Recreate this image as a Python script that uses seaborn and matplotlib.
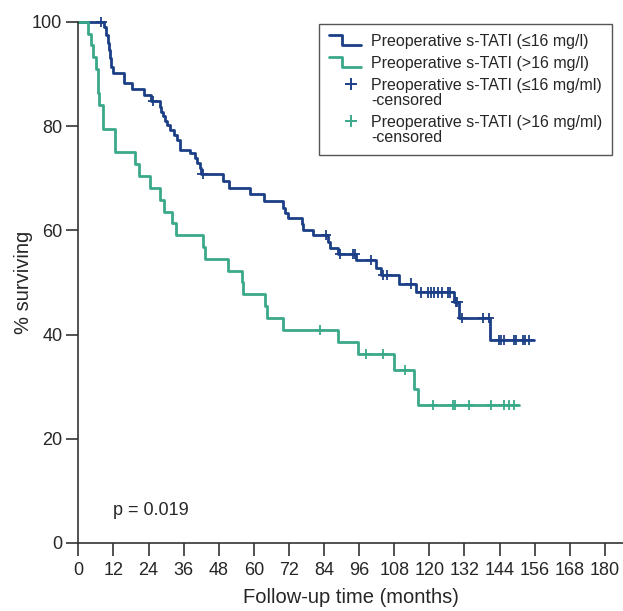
import numpy as np
import pandas as pd
import matplotlib
matplotlib.use("Agg")
import matplotlib.pyplot as plt
from matplotlib.lines import Line2D
from matplotlib.legend_handler import HandlerBase
import seaborn as sns

# Kaplan-Meier steps (months, % surviving)
low_times = [8.7, 9.5, 10.1, 10.4, 10.8, 11.2, 11.8, 15.5, 18.5, 22.4, 24.9,
             27.8, 28.2, 28.8, 29.5, 30.3, 31.4, 32.6, 33.8, 34.7, 38.3, 40.0,
             40.7, 41.5, 42.0, 49.4, 51.4, 58.7, 63.6, 70.0, 70.8, 71.6, 76.4,
             76.8, 80.2, 85.2, 85.9, 88.7, 95.0, 101.8, 103.6, 109.5, 115.5,
             128.3, 130.0, 140.9]
low_surv = [99.0, 97.5, 95.9, 94.6, 93.0, 91.4, 90.3, 88.2, 87.1, 86.0, 84.8,
            83.7, 82.8, 81.9, 81.0, 80.2, 79.3, 78.3, 77.4, 75.5, 74.8, 73.8,
            72.9, 71.9, 70.8, 69.4, 68.1, 67.0, 65.6, 64.3, 63.3, 62.3, 61.2,
            60.1, 59.1, 57.8, 56.6, 55.5, 54.3, 52.7, 51.4, 49.8, 48.1,
            46.2, 43.2, 39.0]
low_censor = [7.9, 25.5, 42.5, 84.7, 89.6, 93.9, 94.6, 100.1, 104.3, 105.5,
              113.6, 117.2, 119.4, 120.5, 121.7, 122.8, 124.4, 126.3, 126.9,
              129.0, 129.6, 131.1, 138.3, 140.5, 143.7, 144.5, 145.4, 148.8,
              149.7, 152.0, 152.8, 153.9]
low_end = 155.7

high_times = [3.3, 4.3, 5.1, 6.1, 6.6, 7.0, 8.3, 12.4, 12.7, 19.3, 20.6, 24.4,
              28.0, 29.4, 32.0, 33.4, 42.6, 43.2, 51.3, 55.9, 56.2, 63.9, 64.5,
              69.9, 88.8, 95.6, 108.0, 114.6, 116.0]
high_surv = [97.7, 95.5, 93.2, 90.9, 86.4, 84.1, 79.5, 77.3, 75.0, 72.7, 70.5,
             68.2, 65.9, 63.6, 61.4, 59.1, 56.8, 54.5, 52.3, 50.0, 47.7, 45.5,
             43.2, 40.9, 38.5, 36.3, 33.2, 29.6, 26.5]
high_censor = [82.7, 98.5, 104.1, 111.7, 121.4, 128.1, 128.8, 133.4, 141.0,
               145.4, 147.4, 149.0]
high_end = 150.8

x_ticks = list(range(0, 181, 12))
y_ticks = [0, 20, 40, 60, 80, 100]

labels = ["Preoperative s-TATI (\u226416 mg/l)",
          "Preoperative s-TATI (>16 mg/l)",
          "Preoperative s-TATI (\u226416 mg/ml)\n-censored",
          "Preoperative s-TATI (>16 mg/ml)\n-censored"]

BLUE = "#1b3f86"
GREEN = "#3aa98a"
palette = {"low": BLUE, "high": GREEN}


def steps(group, times, surv, end):
    t = [0.0] + times + [end]
    s = [100.0] + surv + [surv[-1]]
    return pd.DataFrame({"time": t, "surv": s, "group": group})


def censored(group, times, surv, cens):
    # level of the curve at each censoring time
    idx = np.searchsorted(times, cens, side="right")
    levels = np.concatenate([[100.0], surv])[idx]
    return pd.DataFrame({"time": cens, "surv": levels, "group": group})


curves = pd.concat([steps("low", low_times, low_surv, low_end),
                    steps("high", high_times, high_surv, high_end)],
                   ignore_index=True)
marks = pd.concat([censored("low", low_times, low_surv, low_censor),
                   censored("high", high_times, high_surv, high_censor)],
                  ignore_index=True)


class StepHandler(HandlerBase):
    def create_artists(self, legend, orig_handle, xdescent, ydescent,
                       width, height, fontsize, trans):
        x0 = -xdescent
        y0 = -ydescent
        xs = [x0, x0 + 0.42 * width, x0 + 0.42 * width, x0 + width]
        ys = [y0 + 0.95 * height, y0 + 0.95 * height, y0 + 0.05 * height, y0 + 0.05 * height]
        ln = Line2D(xs, ys, color=orig_handle.get_color(), lw=2.0, transform=trans)
        return [ln]


class CensorHandler(HandlerBase):
    def create_artists(self, legend, orig_handle, xdescent, ydescent,
                       width, height, fontsize, trans):
        x = -xdescent + 0.68 * width
        y = -ydescent + 0.5 * height + 0.62 * fontsize
        ln = Line2D([x], [y], marker="+", markersize=8, markeredgewidth=1.4,
                    color=orig_handle.get_color(), linestyle="none", transform=trans)
        return [ln]


sns.set_style("ticks")
plt.rcParams["font.family"] = ["Liberation Sans", "DejaVu Sans"]

fig = plt.figure(figsize=(6.23, 6.11), dpi=100)
ax = fig.add_axes([0.1257, 0.1113, 0.8743, 0.8527])

sns.lineplot(data=curves, x="time", y="surv", hue="group", palette=palette,
             estimator=None, sort=False, drawstyle="steps-post", linewidth=2.0,
             legend=False, clip_on=False, ax=ax)
sns.scatterplot(data=marks, x="time", y="surv", hue="group", palette=palette,
                marker="+", s=55, linewidth=1.3, legend=False, clip_on=False,
                zorder=3, ax=ax)

ax.set_xlim(0, 186.2)
ax.set_ylim(0, 100)
ax.set_xticks(x_ticks)
ax.set_yticks(y_ticks)
ax.set_xlabel("Follow-up time (months)", fontsize=14.5, labelpad=7)
ax.set_ylabel("% surviving", fontsize=14.5)
ax.yaxis.set_label_coords(-0.083, 0.5)
ax.tick_params(axis="both", labelsize=13, width=1.2, color="#333333", direction="out")
ax.tick_params(axis="x", length=9.5, pad=4)
ax.tick_params(axis="y", length=8.5, pad=3)
for side in ["left", "bottom"]:
    ax.spines[side].set_linewidth(1.2)
    ax.spines[side].set_color("#333333")
sns.despine(ax=ax)

ax.text(12, 6.2, "p = 0.019", fontsize=13, va="center", ha="left")

h_low = Line2D([], [], color=BLUE)
h_high = Line2D([], [], color=GREEN)
c_low = Line2D([], [], color=BLUE)
c_high = Line2D([], [], color=GREEN)
leg = ax.legend([h_low, h_high, c_low, c_high], labels,
                handler_map={h_low: StepHandler(), h_high: StepHandler(),
                             c_low: CensorHandler(), c_high: CensorHandler()},
                loc="upper right", bbox_to_anchor=(0.98, 0.996),
                borderaxespad=0, fontsize=11.5, frameon=True, fancybox=False,
                framealpha=1, edgecolor="#555555", handlelength=2.0,
                handletextpad=0.65, labelspacing=0.45, borderpad=0.6)
leg.get_frame().set_linewidth(1.0)
for t in leg.get_texts():
    t.set_linespacing(1.0)

fig.savefig("out.png", dpi=100)
